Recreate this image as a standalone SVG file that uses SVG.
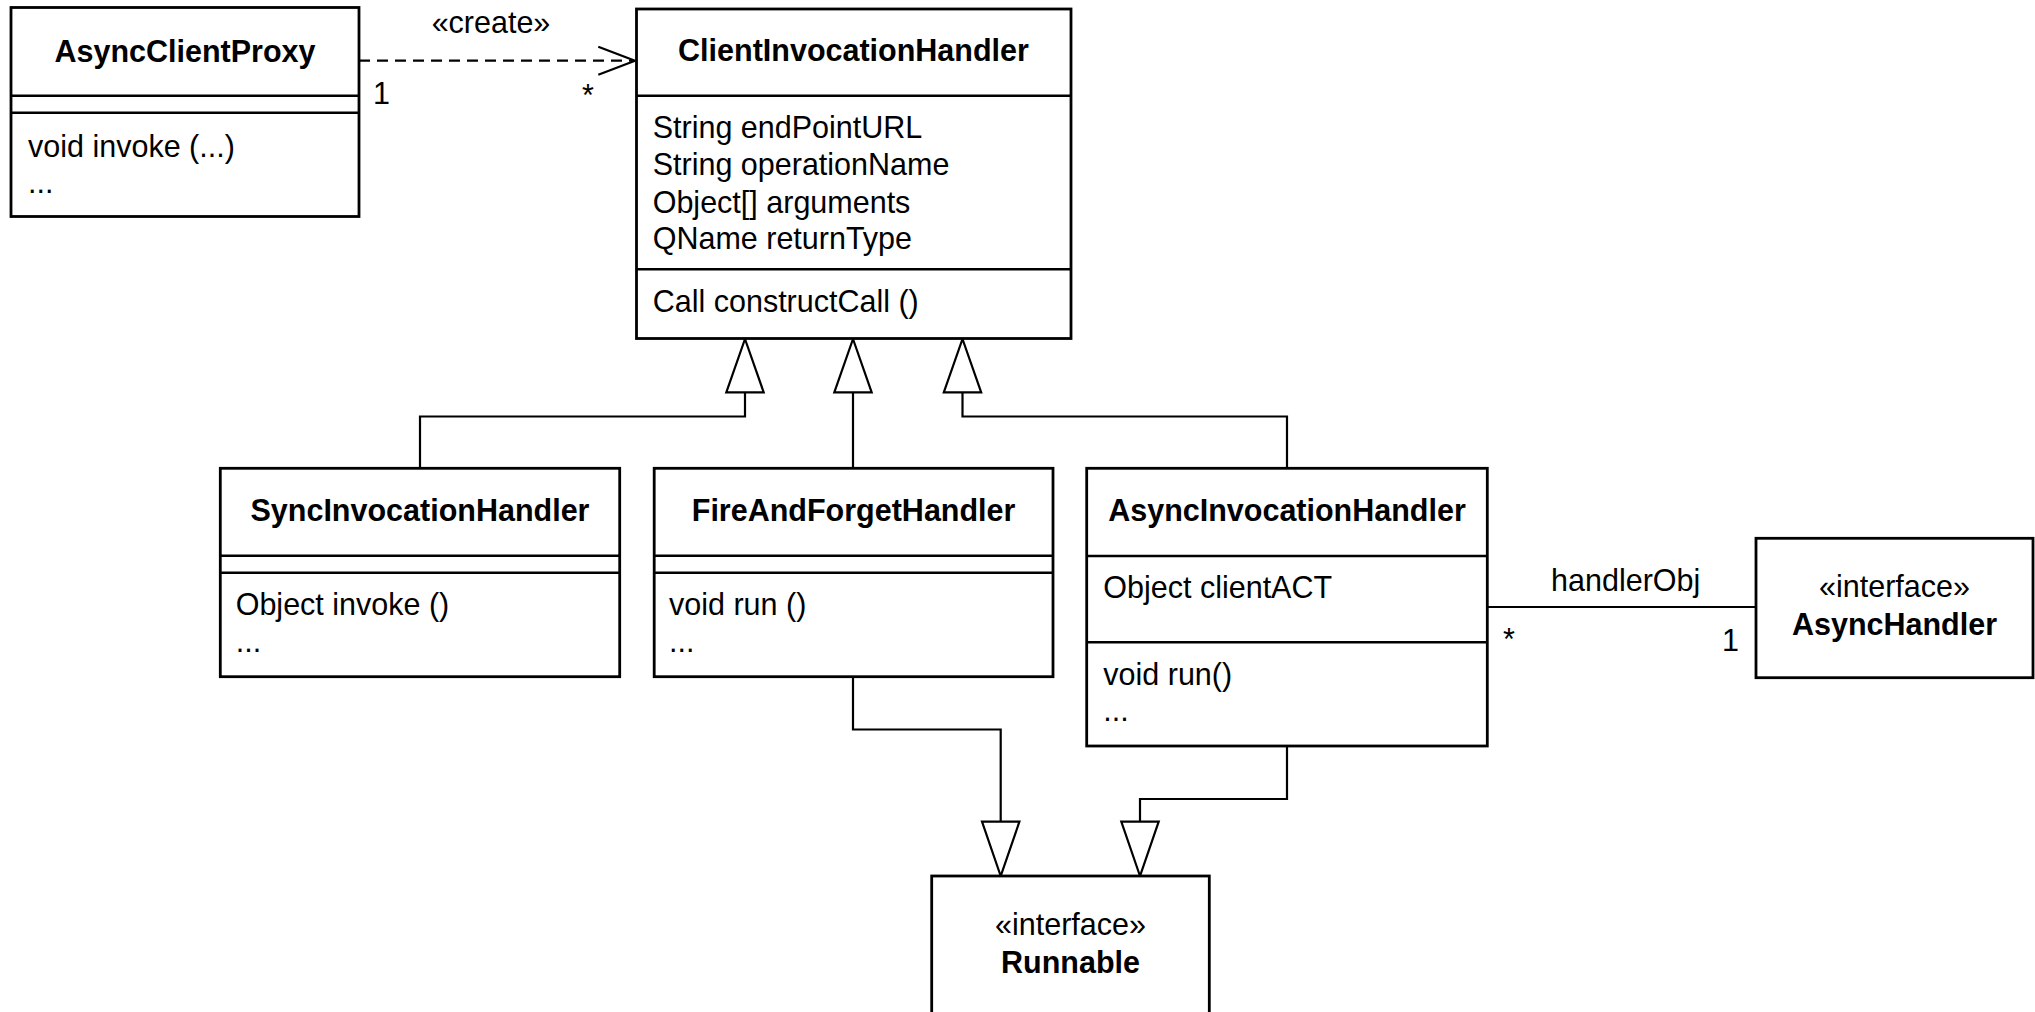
<svg xmlns="http://www.w3.org/2000/svg" width="2035" height="1012" viewBox="0 0 2035 1012">
  <style>
    text { font-family: "Liberation Sans", Arial, sans-serif; font-size: 30.5px; fill: #000; }
    .title { font-weight: bold; text-anchor: middle; }
    .mid { text-anchor: middle; }
    .box { fill: #fff; stroke: #000; stroke-width: 2.8; }
    .div { stroke: #000; stroke-width: 2.5; fill: none; }
    .wire { stroke: #000; stroke-width: 2.2; fill: none; }
    .dash { stroke: #000; stroke-width: 2.2; fill: none; stroke-dasharray: 11 7; }
    .tri { fill: #fff; stroke: #000; stroke-width: 2.2; stroke-linejoin: miter; }
  </style>
  <rect width="2035" height="1012" fill="#fff"/>

  <!-- connectors -->
  <g id="connectors">
    <!-- create dependency -->
    <line class="dash" x1="359" y1="60.7" x2="633" y2="60.7"/>
    <polyline class="wire" points="598.3,46.7 635,60.7 598.3,74.7"/>
    <text class="mid" x="491" y="33.3">«create»</text>
    <text x="373" y="103.5">1</text>
    <text x="582" y="106">*</text>

    <!-- generalizations to ClientInvocationHandler -->
    <polyline class="wire" points="420,468 420,416.5 745,416.5 745,392"/>
    <line class="wire" x1="853" y1="468" x2="853" y2="392"/>
    <polyline class="wire" points="1287,468 1287,416.5 962.5,416.5 962.5,392"/>
    <polygon class="tri" points="745,339 763.7,392.3 726.3,392.3"/>
    <polygon class="tri" points="853,339 871.7,392.3 834.3,392.3"/>
    <polygon class="tri" points="962.5,339 981.2,392.3 943.8,392.3"/>

    <!-- realizations of Runnable -->
    <polyline class="wire" points="853,677 853,729.5 1000.7,729.5 1000.7,821.7"/>
    <polyline class="wire" points="1287,746 1287,799 1140,799 1140,821.7"/>
    <polygon class="tri" points="1000.7,876 982,821.7 1019.4,821.7"/>
    <polygon class="tri" points="1140,876 1121.3,821.7 1158.7,821.7"/>

    <!-- association to AsyncHandler -->
    <line class="wire" x1="1487" y1="607" x2="1756" y2="607"/>
    <text class="mid" x="1625.7" y="590.7">handlerObj</text>
    <text x="1503" y="650">*</text>
    <text x="1722" y="650.7">1</text>
  </g>

  <!-- AsyncClientProxy -->
  <g id="AsyncClientProxy">
    <rect class="box" x="11" y="7.5" width="348" height="209"/>
    <line class="div" x1="11" y1="95.7" x2="359" y2="95.7"/>
    <line class="div" x1="11" y1="112.7" x2="359" y2="112.7"/>
    <text class="title" x="185" y="61.5">AsyncClientProxy</text>
    <text x="28" y="157">void invoke (...)</text>
    <text x="28" y="193">...</text>
  </g>

  <!-- ClientInvocationHandler -->
  <g id="ClientInvocationHandler">
    <rect class="box" x="636.5" y="9" width="434.5" height="329.5"/>
    <line class="div" x1="636.5" y1="95.7" x2="1071" y2="95.7"/>
    <line class="div" x1="636.5" y1="269.3" x2="1071" y2="269.3"/>
    <text class="title" x="853.5" y="60.5">ClientInvocationHandler</text>
    <text x="652.7" y="137.5">String endPointURL</text>
    <text x="652.7" y="175">String operationName</text>
    <text x="652.7" y="212.5">Object[] arguments</text>
    <text x="652.7" y="249">QName returnType</text>
    <text x="652.7" y="311.7">Call constructCall ()</text>
  </g>

  <!-- SyncInvocationHandler -->
  <g id="SyncInvocationHandler">
    <rect class="box" x="220.3" y="468.3" width="399.4" height="208.4"/>
    <line class="div" x1="220.3" y1="555.7" x2="619.7" y2="555.7"/>
    <line class="div" x1="220.3" y1="572.7" x2="619.7" y2="572.7"/>
    <text class="title" x="420" y="521">SyncInvocationHandler</text>
    <text x="235.7" y="615">Object invoke ()</text>
    <text x="235.7" y="652">...</text>
  </g>

  <!-- FireAndForgetHandler -->
  <g id="FireAndForgetHandler">
    <rect class="box" x="654.2" y="468.3" width="398.8" height="208.4"/>
    <line class="div" x1="654.2" y1="555.7" x2="1053" y2="555.7"/>
    <line class="div" x1="654.2" y1="572.7" x2="1053" y2="572.7"/>
    <text class="title" x="853.6" y="521">FireAndForgetHandler</text>
    <text x="669" y="615">void run ()</text>
    <text x="669" y="652">...</text>
  </g>

  <!-- AsyncInvocationHandler -->
  <g id="AsyncInvocationHandler">
    <rect class="box" x="1086.7" y="468.3" width="400.6" height="277.7"/>
    <line class="div" x1="1086.7" y1="556" x2="1487.3" y2="556"/>
    <line class="div" x1="1086.7" y1="642.3" x2="1487.3" y2="642.3"/>
    <text class="title" x="1287" y="521">AsyncInvocationHandler</text>
    <text x="1103.3" y="598.3">Object clientACT</text>
    <text x="1103.3" y="685">void run()</text>
    <text x="1103.3" y="720.5">...</text>
  </g>

  <!-- AsyncHandler interface -->
  <g id="AsyncHandler">
    <rect class="box" x="1756" y="538.3" width="277" height="139.4"/>
    <text class="mid" x="1894.5" y="596.7">«interface»</text>
    <text class="title" x="1894.5" y="635">AsyncHandler</text>
  </g>

  <!-- Runnable interface -->
  <g id="Runnable">
    <rect class="box" x="931.7" y="876" width="277.6" height="150"/>
    <text class="mid" x="1070.5" y="935">«interface»</text>
    <text class="title" x="1070.5" y="973">Runnable</text>
  </g>
</svg>
